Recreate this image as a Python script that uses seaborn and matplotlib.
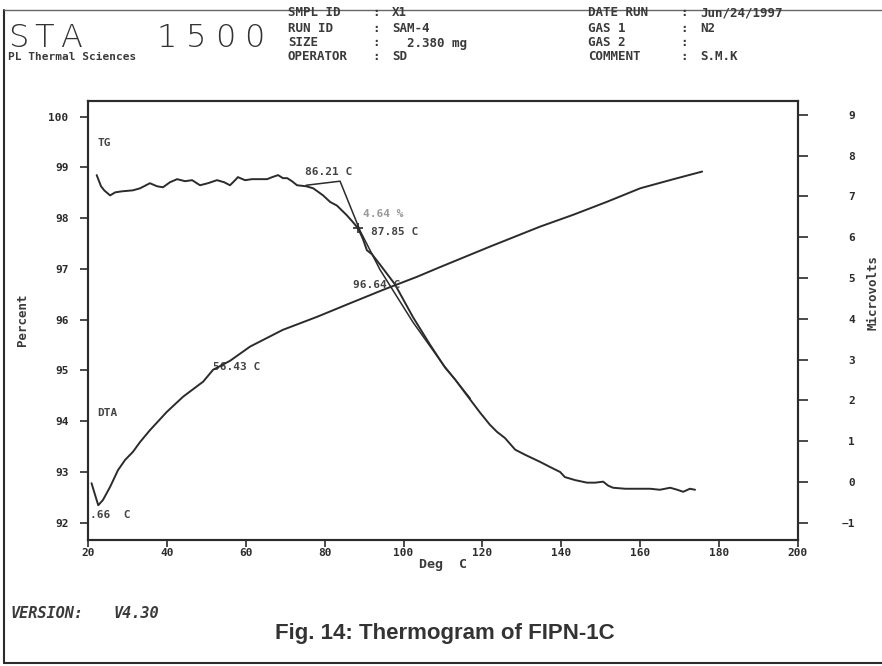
import matplotlib
matplotlib.use("Agg")
import matplotlib.pyplot as plt
import seaborn as sns
import pandas as pd
from matplotlib.lines import Line2D

# ---------------- data ----------------
tg_temp = [22.2, 23.3, 24.1, 25.6, 26.9, 28.6, 31.4, 33.2, 35.7, 37.5, 39.0, 40.8, 42.6,
           44.6, 46.4, 48.4, 50.4, 52.7, 54.5, 56.0, 57.3, 58.0, 59.8, 61.6, 63.6, 65.4,
           66.7, 68.2, 69.4, 70.5, 71.7, 73.0, 75.3, 77.1, 79.6, 81.4, 83.1, 85.6, 87.2,
           88.5, 89.7, 90.7, 92.0, 94.0, 97.8, 102.4, 106.7, 110.5, 113.1, 115.6, 119.4,
           121.9, 123.7, 125.7, 128.3, 130.8, 134.6, 137.1, 139.7, 140.9, 143.5, 146.5,
           148.6, 150.6, 151.9, 153.1, 156.2, 160.0, 162.5, 165.0, 167.6, 169.4, 170.9,
           172.6, 173.9]
tg_pct = [98.85, 98.63, 98.55, 98.45, 98.51, 98.53, 98.55, 98.59, 98.69, 98.63, 98.61,
          98.71, 98.77, 98.73, 98.75, 98.65, 98.69, 98.75, 98.71, 98.65, 98.75, 98.81,
          98.75, 98.77, 98.77, 98.77, 98.81, 98.85, 98.79, 98.79, 98.73, 98.65, 98.63,
          98.59, 98.45, 98.32, 98.25, 98.06, 97.92, 97.80, 97.59, 97.37, 97.29, 97.09,
          96.70, 96.05, 95.51, 95.06, 94.82, 94.56, 94.17, 93.93, 93.79, 93.67, 93.44,
          93.34, 93.20, 93.10, 93.00, 92.90, 92.84, 92.79, 92.79, 92.81, 92.73, 92.69,
          92.67, 92.67, 92.67, 92.65, 92.69, 92.65, 92.61, 92.67, 92.65]

dta_temp = [20.9, 21.8, 22.6, 23.8, 25.6, 27.6, 29.4, 31.4, 33.2, 35.7, 40.0, 44.1, 49.2,
            51.7, 56.0, 61.1, 69.4, 78.1, 86.4, 94.8, 103.4, 109.3, 121.9, 134.6, 143.0,
            151.6, 160.0, 168.3, 175.7]
dta_uv = [-0.03, -0.32, -0.57, -0.44, -0.12, 0.29, 0.54, 0.74, 0.98, 1.27, 1.72, 2.09,
          2.46, 2.75, 2.97, 3.32, 3.73, 4.05, 4.38, 4.71, 5.03, 5.27, 5.77, 6.26, 6.55,
          6.87, 7.20, 7.42, 7.61]

# onset construction lines on the TG curve
onset_temp = [75.3, 83.9, 89.0, 94.0, 102.4, 110.0, 116.9]
onset_pct = [98.65, 98.73, 97.75, 96.99, 95.95, 95.12, 94.45]

pct_ticks = [92, 93, 94, 95, 96, 97, 98, 99, 100]
uv_ticks = [-1, 0, 1, 2, 3, 4, 5, 6, 7, 8, 9]
temp_ticks = [20, 40, 60, 80, 100, 120, 140, 160, 180, 200]

# annotation labels (text, temp, percent)
annot_text = ["TG", "DTA", "86.21 C", "4.64 %", "87.85 C", "96.64 C", "56.43 C", ".66  C"]
annot_temp = [22.3, 22.3, 75.0, 89.7, 91.8, 87.2, 51.7, 20.5]
annot_pct = [99.48, 94.16, 98.91, 98.08, 97.72, 96.68, 95.07, 92.15]
mark_temp = [88.5]
mark_pct = [97.80]

# ---------------- figure ----------------
sns.set_theme(style="ticks")
plt.rcParams["font.family"] = ["DejaVu Sans"]
INK = "#2b2b2b"
mono = dict(family="DejaVu Sans Mono", fontweight="bold", color="#3a3a3a")

fig = plt.figure(figsize=(8.82, 6.66), dpi=100)
fig.patch.set_facecolor("white")
W, H = 882.0, 666.0
ax = fig.add_axes([88 / W, 1 - 539.5 / H, (798 - 88) / W, (539.5 - 101) / H])
ax.set_facecolor("white")
ax2 = ax.twinx()

tg_df = pd.DataFrame({"temp": tg_temp, "pct": tg_pct})
dta_df = pd.DataFrame({"temp": dta_temp, "uv": dta_uv})
on_df = pd.DataFrame({"temp": onset_temp, "pct": onset_pct})

sns.lineplot(data=tg_df, x="temp", y="pct", ax=ax, color=INK, lw=1.4, sort=False,
             estimator=None)
sns.lineplot(data=on_df, x="temp", y="pct", ax=ax, color=INK, lw=1.1, sort=False,
             estimator=None)
sns.lineplot(data=dta_df, x="temp", y="uv", ax=ax2, color=INK, lw=1.4, sort=False,
             estimator=None)
ax.plot(mark_temp, mark_pct, marker="+", color=INK, ms=7, mew=1.2, ls="none")

ax.set_xlim(20, 200)
ax.set_ylim(91.67, 100.31)
ax2.set_ylim(-1.41, 9.34)

ax.set_xticks(temp_ticks)
ax.set_xticklabels([str(t) for t in temp_ticks], fontsize=8, **mono)
ax.set_yticks(pct_ticks)
ax.set_yticklabels([str(t) for t in pct_ticks], fontsize=8, **mono)
ax2.set_yticks(uv_ticks)
ax2.set_yticklabels(["\u22121" if t == -1 else str(t) for t in uv_ticks], fontsize=8, **mono)
for lab in ax2.get_yticklabels():
    lab.set_horizontalalignment("right")

ax.tick_params(axis="x", direction="out", length=5, width=1.2, pad=1, colors=INK)
ax.tick_params(axis="y", direction="out", length=6, width=1.2, pad=8, colors=INK)
ax2.tick_params(axis="y", direction="out", length=7, width=1.2, pad=34, colors=INK)

for a in (ax, ax2):
    for s in a.spines.values():
        s.set_color(INK)
        s.set_linewidth(1.5)
    a.set_xlabel("")
    a.set_ylabel("")

ax.set_xlabel("Deg  C", fontsize=9.5, labelpad=0, **mono)
ax.set_ylabel("Percent", fontsize=9, labelpad=14, **mono)
fig.text(873 / W, 1 - 293 / H, "Microvolts", rotation=90, ha="center", va="center",
         fontsize=9, **mono)

for t, x, y in zip(annot_text, annot_temp, annot_pct):
    col = "#9a9a9a" if "%" in t else "#444444"
    ax.text(x, y, t, ha="left", va="center", fontsize=8, family="DejaVu Sans Mono",
            fontweight="bold", color=col)

# ---------------- header ----------------
def px(x, y):
    return x / W, 1 - y / H

for ch, x in zip("STA", [8, 34, 60]):
    fig.text(*px(x, 38), ch, fontsize=23, fontweight="light", color="#333333",
             ha="left", va="center", family="DejaVu Sans")
for ch, x in zip("1500", [157, 186, 215, 244]):
    fig.text(*px(x, 38), ch, fontsize=23, fontweight="light", color="#333333",
             ha="left", va="center", family="DejaVu Sans")
fig.text(*px(8, 57), "PL Thermal Sciences", fontsize=8, ha="left", va="center", **mono)

rows_y = [13, 28, 43, 57]
col2_lab = ["SMPL ID", "RUN ID", "SIZE", "OPERATOR"]
col2_val = ["X1", "SAM-4", "  2.380 mg", "SD"]
col3_lab = ["DATE RUN", "GAS 1", "GAS 2", "COMMENT"]
col3_val = ["Jun/24/1997", "N2", "", "S.M.K"]
for y, l, v in zip(rows_y, col2_lab, col2_val):
    fig.text(*px(288, y), l, fontsize=9, ha="left", va="center", **mono)
    fig.text(*px(372, y), ":", fontsize=9, ha="left", va="center", **mono)
    fig.text(*px(392, y), v, fontsize=9, ha="left", va="center", **mono)
for y, l, v in zip(rows_y, col3_lab, col3_val):
    fig.text(*px(588, y), l, fontsize=9, ha="left", va="center", **mono)
    fig.text(*px(680, y), ":", fontsize=9, ha="left", va="center", **mono)
    fig.text(*px(700, y), v, fontsize=9, ha="left", va="center", **mono)

fig.text(*px(10, 613), "VERSION:", fontsize=11, style="italic", ha="left",
         va="center", **mono)
fig.text(*px(113, 613), "V4.30", fontsize=11, style="italic", ha="left",
         va="center", **mono)
fig.text(*px(445, 634), "Fig. 14: Thermogram of FIPN-1C", fontsize=16, fontweight="bold",
         family="Liberation Sans", color="#333333", ha="center", va="center")

# page frame
fig.add_artist(Line2D([4 / W, 4 / W], [1 - 10 / H, 1 - 663 / H], color=INK, lw=1.5,
                      transform=fig.transFigure))
fig.add_artist(Line2D([4 / W, 1.0], [1 - 10 / H, 1 - 10 / H], color="#666666", lw=1.0,
                      transform=fig.transFigure))
fig.add_artist(Line2D([4 / W, 1.0], [1 - 663 / H, 1 - 663 / H], color=INK, lw=1.5,
                      transform=fig.transFigure))

fig.savefig("out.png", dpi=100, facecolor="white")
